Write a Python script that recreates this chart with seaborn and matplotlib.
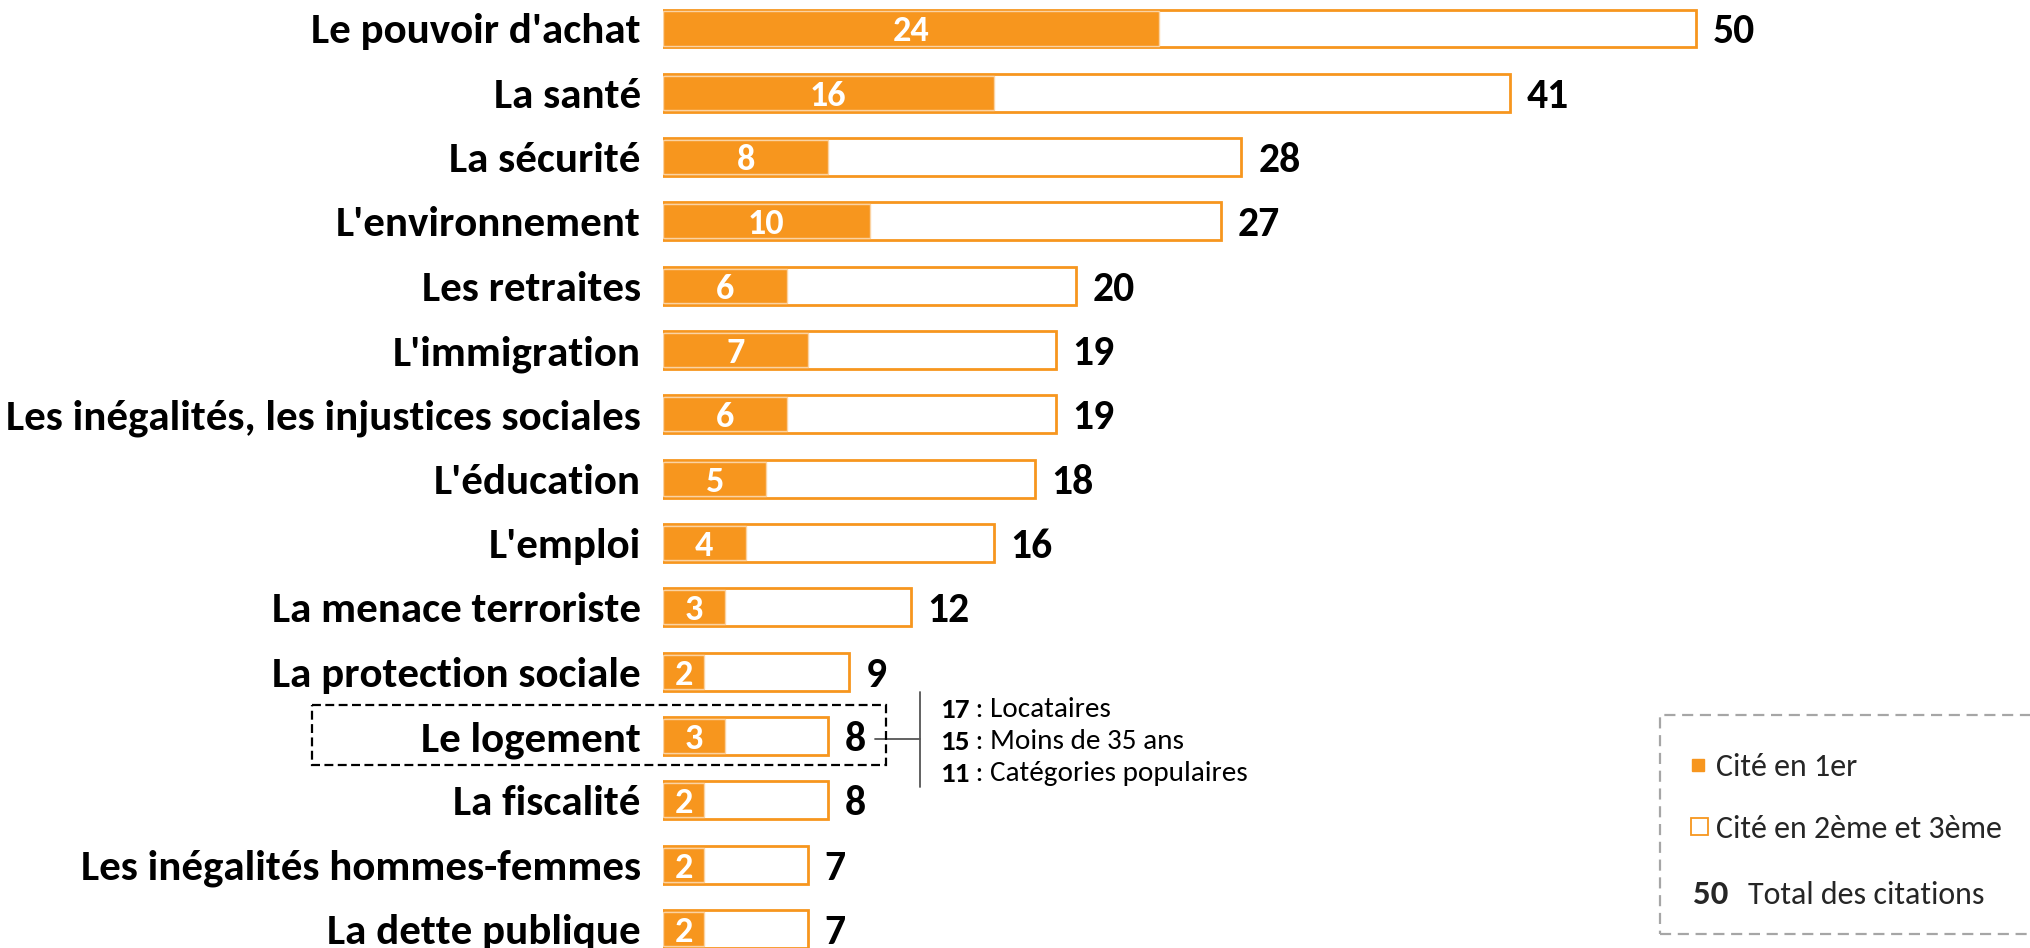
import matplotlib
matplotlib.use("Agg")
import matplotlib.pyplot as plt
from matplotlib.patches import Rectangle
import seaborn as sns
import pandas as pd

categories = ["Le pouvoir d'achat", "La santé", "La sécurité", "L'environnement",
              "Les retraites", "L'immigration", "Les inégalités, les injustices sociales",
              "L'éducation", "L'emploi", "La menace terroriste", "La protection sociale",
              "Le logement", "La fiscalité", "Les inégalités hommes-femmes", "La dette publique"]
first = [24, 16, 8, 10, 6, 7, 6, 5, 4, 3, 2, 3, 2, 2, 2]
total = [50, 41, 28, 27, 20, 19, 19, 18, 16, 12, 9, 8, 8, 7, 7]

highlight = "Le logement"
detail_values = [17, 15, 11]
detail_labels = ["Locataires", "Moins de 35 ans", "Catégories populaires"]
legend_labels = ["Cité en 1er", "Cité en 2ème et 3ème", "Total des citations"]
legend_total = "50"

ORANGE = "#F7961E"
LIGHT = "#FBD3A3"

sns.set_theme(style="white")
plt.rcParams['font.family'] = ['Carlito', 'DejaVu Sans']

df = pd.DataFrame({"cat": categories, "first": first, "total": total})

W, H = 2031, 948
fig = plt.figure(figsize=(W / 100, H / 100), dpi=100)
x0 = 663 / W
ax = fig.add_axes([x0, 0, 1 - x0, 1])

sns.barplot(data=df, x="total", y="cat", orient="h", color="white",
            edgecolor=ORANGE, linewidth=2.0, width=0.59, ax=ax, saturation=1)
sns.barplot(data=df, x="first", y="cat", orient="h", color=ORANGE,
            edgecolor=LIGHT, linewidth=1.0, width=0.53, ax=ax, saturation=1)

px_per_unit = 20.66
ax.set_xlim(0, (W - 663) / px_per_unit)
ax.set_ylim(14.296, -0.443)
ax.set_xlabel("")
ax.set_ylabel("")
ax.set_xticks([])
for s in ax.spines.values():
    s.set_visible(False)
ax.tick_params(axis="y", length=0, pad=16)
for lab in ax.get_yticklabels():
    lab.set_fontsize(31)
    lab.set_fontweight("bold")
    lab.set_color("black")
    lab.set_verticalalignment("center_baseline")

for i, (f, t) in enumerate(zip(first, total)):
    ax.text(f / 2, i, str(f), ha="center", va="center_baseline", color="white",
            fontsize=26, fontweight="bold")
    ax.annotate(str(t), xy=(t, i), xytext=(12, 0), textcoords="offset points",
                ha="left", va="center_baseline", fontsize=30, fontweight="bold",
                color="black")

# highlight box around "Le logement"
hi = categories.index(highlight)
ax.add_patch(Rectangle((-17.0, hi - 0.48), 27.8, 0.93, fill=False, edgecolor="black",
                       linestyle=(0, (4, 2)), linewidth=1.6, clip_on=False, zorder=5))
# bracket
ax.plot([12.44, 12.44], [hi - 0.69, hi + 0.79], color="#555555", lw=1.3, clip_on=False)
ax.plot([10.26, 12.44], [hi + 0.05, hi + 0.05], color="#555555", lw=1.3, clip_on=False)

for k, (v, lab) in enumerate(zip(detail_values, detail_labels)):
    yy = hi - 0.44 + k * 0.5
    t = ax.text(13.4, yy, str(v), ha="left", va="center_baseline", fontsize=21,
                fontweight="bold", color="black", clip_on=False)
    ax.annotate(" : " + lab, xy=(1, 0), xycoords=t, ha="left", va="bottom",
                fontsize=21, color="black")

# legend (figure pixel coordinates)
def fx(p):
    return p / W

def fy(p):
    return 1 - p / H

fig.add_artist(Rectangle((fx(1660), fy(934)), fx(400), (934 - 715) / H, fill=False,
                         edgecolor="#A6A6A6", linestyle=(0, (5, 3)), linewidth=1.6,
                         transform=fig.transFigure))
fig.add_artist(Rectangle((fx(1692), fy(771)), fx(12), 12 / H, facecolor=ORANGE,
                         edgecolor=ORANGE, transform=fig.transFigure))
fig.add_artist(Rectangle((fx(1691), fy(835)), fx(17), 17 / H, facecolor="white",
                         edgecolor=ORANGE, linewidth=1.3, transform=fig.transFigure))
fig.text(fx(1716), fy(765), legend_labels[0], ha="left", va="center_baseline", fontsize=23)
fig.text(fx(1716), fy(826), legend_labels[1], ha="left", va="center_baseline", fontsize=23)
fig.text(fx(1693), fy(892), legend_total, ha="left", va="center_baseline", fontsize=25,
         fontweight="bold")
fig.text(fx(1748), fy(892), legend_labels[2], ha="left", va="center_baseline", fontsize=23)

fig.savefig("out.png", dpi=100)
